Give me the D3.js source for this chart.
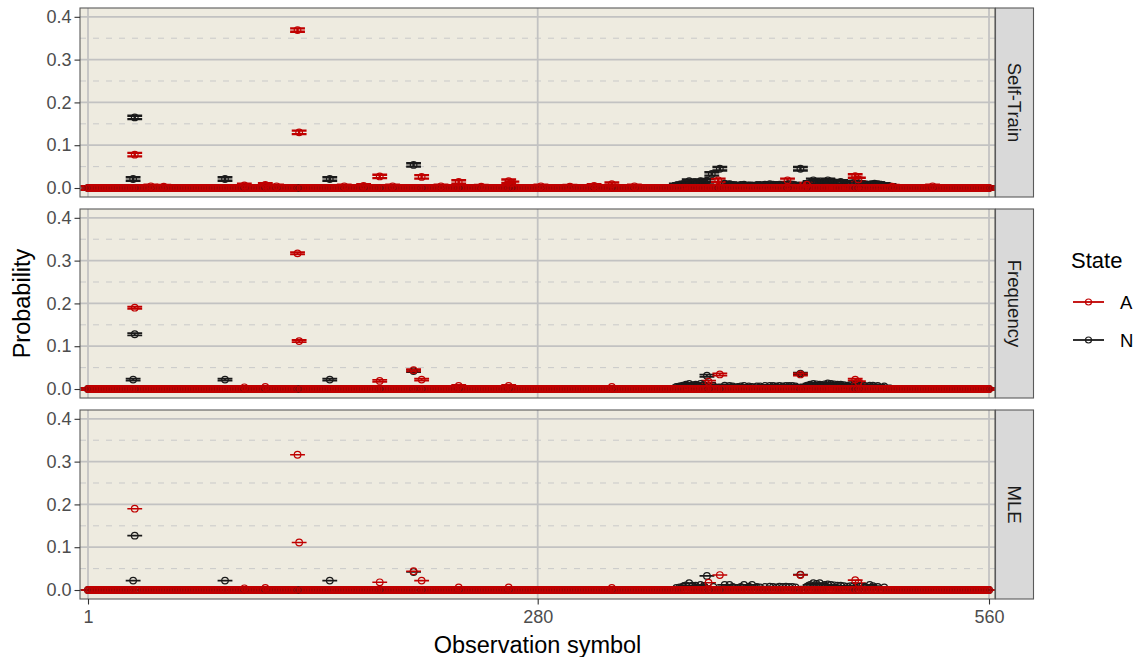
<!DOCTYPE html>
<html>
<head>
<meta charset="utf-8">
<script src="https://cdn.jsdelivr.net/npm/d3@7"></script>
<style>
  body { margin: 0; background: #fff; }
  text { font-family: "Liberation Sans", Arial, Helvetica, sans-serif; }
</style>
</head>
<body>
<svg id="chart"></svg>
<script>
// ---- data ----
const methods = ["Self-Train", "Frequency", "MLE"];
const states = ["A", "N"];
const nObs = 560;
const xTickValues = [1, 280, 560];
const yTickValues = [0, 0.1, 0.2, 0.3, 0.4];
const yMinorValues = [0.05, 0.15, 0.25, 0.35];
// half width of the interval drawn around each probability, per method
const ciHalfWidth = [0.004, 0.0025, 0];

// [observation symbol, probability]; every symbol not listed has probability 0
const selfTrainA = [[30, 0.078], [40, 0.004], [48, 0.003], [98, 0.006], [111, 0.007], [118, 0.004],
  [131, 0.369], [132, 0.130], [160, 0.004], [172, 0.005], [182, 0.027], [190, 0.004], [208, 0.026],
  [220, 0.004], [231, 0.014], [245, 0.003], [262, 0.016], [264, 0.011], [282, 0.004], [300, 0.003],
  [315, 0.005], [326, 0.009], [340, 0.004], [392, 0.018], [435, 0.018], [447, 0.008], [477, 0.028],
  [479, 0.020], [500, 0.003], [525, 0.004]];
const selfTrainN = [[29, 0.021], [30, 0.165], [86, 0.021], [151, 0.021], [203, 0.054],
  [366, 0.006], [368, 0.007], [370, 0.009], [372, 0.011], [374, 0.016], [376, 0.010], [378, 0.012],
  [381, 0.016], [383, 0.011], [385, 0.017], [388, 0.033], [393, 0.045], [396, 0.010], [399, 0.009],
  [401, 0.007], [403, 0.006], [406, 0.007], [408, 0.008], [411, 0.006], [413, 0.006], [416, 0.007],
  [418, 0.007], [421, 0.008], [424, 0.009], [426, 0.008], [428, 0.007], [430, 0.008], [432, 0.006],
  [434, 0.008], [436, 0.009], [438, 0.008], [440, 0.006], [443, 0.045], [446, 0.008], [449, 0.012],
  [451, 0.018], [453, 0.014], [455, 0.012], [458, 0.013], [460, 0.018], [462, 0.015], [464, 0.013],
  [466, 0.012], [468, 0.014], [470, 0.012], [472, 0.010], [474, 0.011], [476, 0.012], [478, 0.010],
  [480, 0.011], [482, 0.009], [484, 0.008], [487, 0.009], [489, 0.010], [491, 0.009], [494, 0.007],
  [498, 0.005]];

const frequencyA = [[30, 0.190], [98, 0.004], [111, 0.005], [131, 0.317], [132, 0.112], [182, 0.019],
  [203, 0.044], [208, 0.022], [231, 0.007], [262, 0.007], [326, 0.005], [386, 0.017], [393, 0.034],
  [443, 0.034], [477, 0.022], [479, 0.016]];
const frequencyN = [[29, 0.022], [30, 0.128], [86, 0.022], [151, 0.022], [203, 0.042], [385, 0.031],
  [443, 0.036], [366, 0.005], [368, 0.006], [370, 0.008], [372, 0.010], [374, 0.012], [376, 0.009],
  [378, 0.010], [381, 0.012], [383, 0.009], [389, 0.007], [396, 0.008], [399, 0.007], [401, 0.006],
  [404, 0.005], [406, 0.006], [408, 0.007], [411, 0.006], [413, 0.005], [416, 0.006], [418, 0.006],
  [421, 0.007], [424, 0.007], [426, 0.007], [428, 0.006], [430, 0.007], [432, 0.006], [434, 0.007],
  [436, 0.007], [438, 0.007], [440, 0.006], [447, 0.008], [449, 0.010], [451, 0.012], [453, 0.011],
  [455, 0.010], [458, 0.011], [460, 0.013], [462, 0.012], [464, 0.011], [466, 0.010], [468, 0.010],
  [470, 0.009], [472, 0.008], [474, 0.009], [476, 0.009], [478, 0.008], [480, 0.008], [483, 0.007],
  [486, 0.008], [488, 0.008], [491, 0.007], [495, 0.006]];

const mleA = [[30, 0.190], [98, 0.004], [111, 0.005], [131, 0.316], [132, 0.111], [182, 0.018],
  [203, 0.044], [208, 0.022], [231, 0.006], [262, 0.006], [326, 0.005], [386, 0.017], [393, 0.035],
  [443, 0.035], [477, 0.023], [479, 0.016]];
const mleN = [[29, 0.022], [30, 0.127], [86, 0.022], [151, 0.022], [203, 0.042], [385, 0.033],
  [443, 0.036], [366, 0.005], [368, 0.006], [370, 0.008], [372, 0.011], [374, 0.016], [376, 0.010],
  [378, 0.010], [381, 0.012], [383, 0.009], [389, 0.007], [396, 0.012], [399, 0.012], [401, 0.007],
  [404, 0.005], [406, 0.007], [408, 0.012], [411, 0.008], [413, 0.012], [416, 0.007], [418, 0.006],
  [421, 0.007], [424, 0.008], [426, 0.007], [428, 0.006], [430, 0.008], [432, 0.007], [434, 0.008],
  [436, 0.007], [438, 0.007], [440, 0.006], [447, 0.008], [449, 0.012], [451, 0.016], [453, 0.014],
  [455, 0.016], [458, 0.012], [460, 0.013], [462, 0.012], [464, 0.011], [466, 0.010], [468, 0.010],
  [470, 0.009], [472, 0.008], [474, 0.009], [476, 0.009], [478, 0.008], [480, 0.008], [483, 0.008],
  [486, 0.012], [488, 0.009], [491, 0.007], [495, 0.006]];

const seriesByMethod = [
  { A: selfTrainA, N: selfTrainN },
  { A: frequencyA, N: frequencyN },
  { A: mleA, N: mleN }
];

// ---- layout ----
const width = 1136, height = 657;
const panelLeft = 80, panelRight = 995;
const panelTop0 = 8, panelH = 189, panelGap = 12;
const stripW = 38;
const colors = { A: "#C00000", N: "#1A1A1A" };
const errStroke = [2.4, 1.8, 1.6];

const svg = d3.select("#chart").attr("width", width).attr("height", height);

const x = d3.scaleLinear().domain([1, 560]).range([88, 989]);
const y = d3.scaleLinear().domain([-0.021, 0.4206]).range([panelH, 0]);
const errHalf = 4.6; // in observation units

const obsAll = d3.range(1, nObs + 1);

methods.forEach((method, mi) => {
  const top = panelTop0 + mi * (panelH + panelGap);
  const g = svg.append("g").attr("transform", `translate(0,${top})`);
  const clipId = `clip${mi}`;
  g.append("clipPath").attr("id", clipId)
    .append("rect").attr("x", panelLeft).attr("y", 0)
    .attr("width", panelRight - panelLeft).attr("height", panelH);

  g.append("rect")
    .attr("x", panelLeft).attr("y", 0)
    .attr("width", panelRight - panelLeft).attr("height", panelH)
    .attr("fill", "#EEEBE0");

  // grid
  g.selectAll(".minor").data(yMinorValues).join("line")
    .attr("x1", panelLeft).attr("x2", panelRight)
    .attr("y1", d => y(d)).attr("y2", d => y(d))
    .attr("stroke", "#C9C9C9").attr("stroke-width", 1)
    .attr("stroke-dasharray", "6,7");
  g.selectAll(".major").data(yTickValues).join("line")
    .attr("x1", panelLeft).attr("x2", panelRight)
    .attr("y1", d => y(d)).attr("y2", d => y(d))
    .attr("stroke", "#C2C2C2").attr("stroke-width", 1.8);
  g.selectAll(".vmajor").data(xTickValues).join("line")
    .attr("x1", d => x(d)).attr("x2", d => x(d))
    .attr("y1", 0).attr("y2", panelH)
    .attr("stroke", "#C2C2C2").attr("stroke-width", 1.8);

  const marks = g.append("g").attr("clip-path", `url(#${clipId})`);
  const hw = ciHalfWidth[mi];

  // rows: N first, then A (A ends up on top)
  const rows = [];
  ["N", "A"].forEach(s => {
    const lookup = new Map(seriesByMethod[mi][s]);
    obsAll.forEach(o => rows.push({ state: s, obs: o, p: lookup.has(o) ? lookup.get(o) : 0 }));
  });

  const errPath = d => {
    const x0 = x(d.obs - errHalf), x1 = x(d.obs + errHalf), xc = x(d.obs);
    const yHi = y(d.p + hw), yLo = y(d.p - hw);
    return `M${x0},${yHi}H${x1}M${xc},${yHi}V${yLo}M${x0},${yLo}H${x1}`;
  };

  marks.selectAll(".err").data(rows).join("path")
    .attr("d", errPath)
    .attr("fill", "none")
    .attr("stroke", d => colors[d.state])
    .attr("stroke-width", errStroke[mi]);

  marks.selectAll(".pt").data(rows).join("circle")
    .attr("cx", d => x(d.obs)).attr("cy", d => y(d.p))
    .attr("r", 3.3)
    .attr("fill", "none")
    .attr("stroke", d => colors[d.state])
    .attr("stroke-width", 1.2);

  // border
  g.append("rect")
    .attr("x", panelLeft).attr("y", 0)
    .attr("width", panelRight - panelLeft).attr("height", panelH)
    .attr("fill", "none").attr("stroke", "#5A5A5A").attr("stroke-width", 1.1);

  // strip
  g.append("rect")
    .attr("x", panelRight + 0.5).attr("y", 0)
    .attr("width", stripW).attr("height", panelH)
    .attr("fill", "#D9D9D9").attr("stroke", "#5A5A5A").attr("stroke-width", 1.1);
  g.append("text")
    .attr("transform", `translate(${panelRight + 0.5 + stripW / 2},${panelH / 2}) rotate(90)`)
    .attr("text-anchor", "middle").attr("dy", "0.35em")
    .attr("font-size", 18.5).attr("fill", "#1A1A1A")
    .text(method);

  // y axis
  const yAxis = g.append("g").attr("transform", `translate(${panelLeft},0)`)
    .call(d3.axisLeft(y).tickValues(yTickValues).tickFormat(d3.format(".1f"))
      .tickSize(5.5).tickPadding(3));
  yAxis.select(".domain").remove();
  yAxis.selectAll(".tick line").attr("stroke", "#333").attr("stroke-width", 1.1);
  yAxis.selectAll(".tick text").attr("font-size", 18).attr("fill", "#4D4D4D")
    .attr("font-family", "Liberation Sans, Arial, sans-serif");

  if (mi === methods.length - 1) {
    const xAxis = g.append("g").attr("transform", `translate(0,${panelH})`)
      .call(d3.axisBottom(x).tickValues(xTickValues).tickSize(5.5).tickPadding(6));
    xAxis.select(".domain").remove();
    xAxis.selectAll(".tick line").attr("stroke", "#333").attr("stroke-width", 1.1);
    xAxis.selectAll(".tick text").attr("font-size", 18).attr("fill", "#4D4D4D")
      .attr("font-family", "Liberation Sans, Arial, sans-serif");
  }
});

// axis titles
svg.append("text")
  .attr("x", (panelLeft + panelRight) / 2).attr("y", 653)
  .attr("text-anchor", "middle").attr("font-size", 23.5).attr("fill", "#000")
  .text("Observation symbol");
svg.append("text")
  .attr("transform", `translate(30,${panelTop0 + (3 * panelH + 2 * panelGap) / 2}) rotate(-90)`)
  .attr("text-anchor", "middle").attr("font-size", 23.5).attr("fill", "#000")
  .text("Probability");

// legend
const legend = svg.append("g").attr("transform", "translate(1071,0)");
legend.append("text").attr("x", 0).attr("y", 268)
  .attr("font-size", 22).attr("fill", "#000").text("State");
states.forEach((s, i) => {
  const ky = 302 + i * 38;
  legend.append("line").attr("x1", 2).attr("x2", 33).attr("y1", ky).attr("y2", ky)
    .attr("stroke", colors[s]).attr("stroke-width", 1.8);
  legend.append("circle").attr("cx", 17.5).attr("cy", ky).attr("r", 3)
    .attr("fill", "none").attr("stroke", colors[s]).attr("stroke-width", 1.2);
  legend.append("text").attr("x", 49).attr("y", ky).attr("dy", "0.36em")
    .attr("font-size", 18.5).attr("fill", "#000").text(s);
});
</script>
</body>
</html>
